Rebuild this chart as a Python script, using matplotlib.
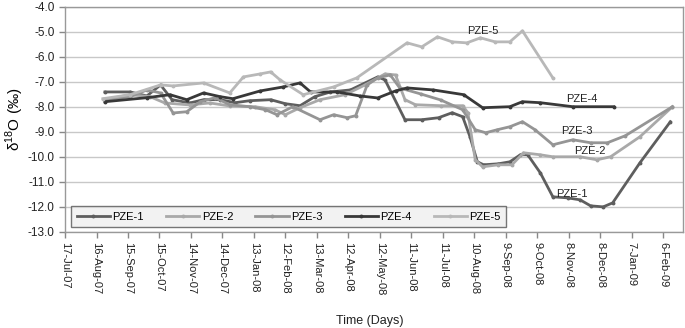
import numpy as np
import matplotlib
matplotlib.use("Agg")
import matplotlib.pyplot as plt

plt.rcParams['font.family'] = ['Liberation Sans', 'DejaVu Sans']
plt.rcParams['mathtext.fontset'] = 'custom'
plt.rcParams['mathtext.rm'] = 'Liberation Sans'

# days counted from 17-Jul-07, values in per mil
start = np.datetime64('2007-07-17')

pze1_day = [38, 62, 78, 91, 102, 119, 132, 148, 162, 176, 196, 210, 224, 238, 253, 272, 298, 305,
            324, 340, 356, 369, 379, 386, 393, 399, 413, 424, 434, 441, 453, 465, 479, 491, 501,
            513, 522, 548, 577]
pze1_val = [-7.41, -7.41, -7.57, -7.13, -7.72, -7.85, -7.72, -7.72, -7.84, -7.76, -7.72, -7.88,
            -7.96, -7.6, -7.41, -7.33, -6.81, -6.93, -8.52, -8.52, -8.44, -8.24, -8.4, -9.2, -10.2,
            -10.32, -10.28, -10.2, -9.92, -9.92, -10.64, -11.6, -11.64, -11.72, -11.96, -12.0,
            -11.84, -10.24, -8.6]

pze2_day = [38, 62, 81, 95, 119, 138, 157, 181, 200, 210, 224, 243, 267, 286, 305, 315, 324, 334,
            358, 379, 384, 391, 398, 413, 426, 437, 453, 465, 491, 507, 520, 548, 579]
pze2_val = [-7.72, -7.52, -7.6, -7.85, -7.93, -7.85, -7.97, -8.0, -8.12, -8.32, -8.04, -7.72,
            -7.52, -7.13, -6.69, -6.73, -7.72, -7.92, -7.96, -7.96, -8.24, -10.12, -10.4, -10.32,
            -10.32, -9.84, -9.92, -10.0, -10.0, -10.12, -10.0, -9.2, -8.0]

pze3_day = [38, 62, 78, 91, 103, 116, 129, 143, 157, 176, 191, 202, 217, 243, 256, 269, 277, 288,
            298, 310, 319, 339, 358, 379, 391, 401, 412, 424, 436, 448, 465, 484, 501, 517, 534, 579]
pze3_val = [-7.72, -7.6, -7.33, -7.45, -8.25, -8.2, -7.8, -7.64, -7.92, -8.0, -8.12, -8.32, -8.0,
            -8.52, -8.32, -8.44, -8.36, -7.13, -6.85, -6.73, -7.25, -7.49, -7.73, -8.12, -8.92,
            -9.04, -8.92, -8.8, -8.6, -8.92, -9.52, -9.32, -9.44, -9.44, -9.16, -8.0]

pze4_day = [38, 78, 100, 116, 132, 148, 160, 186, 208, 224, 234, 259, 281, 298, 315, 326, 351,
            380, 398, 424, 436, 453, 484, 523]
pze4_val = [-7.8, -7.64, -7.52, -7.72, -7.45, -7.6, -7.68, -7.37, -7.21, -7.05, -7.41, -7.41,
            -7.57, -7.65, -7.37, -7.25, -7.33, -7.52, -8.04, -8.0, -7.8, -7.84, -8.0, -8.0]

pze5_day = [36, 62, 91, 103, 132, 157, 170, 186, 196, 205, 227, 256, 278, 326, 340, 355, 369,
            383, 396, 410, 424, 436, 465]
pze5_val = [-7.68, -7.52, -7.13, -7.17, -7.05, -7.45, -6.81, -6.69, -6.61, -6.93, -7.52, -7.21,
            -6.85, -5.45, -5.61, -5.21, -5.41, -5.45, -5.25, -5.41, -5.41, -4.97, -6.85]

names = ['PZE-1', 'PZE-2', 'PZE-3', 'PZE-4', 'PZE-5']
colors = ['#5e5e5e', '#a9a9a9', '#959595', '#383838', '#b8b8b8']
days = [pze1_day, pze2_day, pze3_day, pze4_day, pze5_day]
vals = [pze1_val, pze2_val, pze3_val, pze4_val, pze5_val]

# labels placed on the chart: (day, value)
label_day = [483, 500, 488, 493, 398]
label_val = [-11.48, -9.77, -8.96, -7.69, -4.97]

tick_labels = ['17-Jul-07', '16-Aug-07', '15-Sep-07', '15-Oct-07', '14-Nov-07', '14-Dec-07',
               '13-Jan-08', '12-Feb-08', '13-Mar-08', '12-Apr-08', '12-May-08', '11-Jun-08',
               '11-Jul-08', '10-Aug-08', '9-Sep-08', '9-Oct-08', '8-Nov-08', '8-Dec-08',
               '7-Jan-09', '6-Feb-09']

fig = plt.figure(figsize=(6.85, 3.28), dpi=100)
ax = fig.add_axes([0.095, 0.293, 0.902, 0.687])

for d, v, c, n in zip(days, vals, colors, names):
    t = start + np.array(d).astype('timedelta64[D]')
    ax.plot(t, v, color=c, lw=2, marker='o', ms=1.8, label=n, solid_joinstyle='round')

for d, v, n in zip(label_day, label_val, names):
    t = start + np.timedelta64(d, 'D')
    ax.text(t, v, n, fontsize=8, ha='center', va='center', color='#222222')

ticks = start + (np.arange(len(tick_labels)) * 30).astype('timedelta64[D]')
ax.set_xticks(ticks)
ax.set_xticklabels(tick_labels, rotation=270, fontsize=8, color='#222222')
ax.set_xlim(start, np.datetime64('2009-02-25'))

ax.set_ylim(-13, -4)
ax.set_yticks(np.arange(-13, -3.9, 1.0))
ax.set_yticklabels(['%.1f' % y for y in np.arange(-13, -3.9, 1.0)], fontsize=8.5, color='#222222')
ax.yaxis.grid(True, color='#c8c8c8', lw=1)
ax.set_axisbelow(True)
ax.tick_params(direction='out', length=4, color='#888888', width=1)

for s in ax.spines.values():
    s.set_color('#999999')
    s.set_linewidth(1)

ax.set_ylabel('δ$^{18}$O (‰)', fontsize=11, labelpad=1)
fig.text(0.54, 0.02, 'Time (Days)', fontsize=9, ha='center', va='center', color='#222222')

leg = ax.legend(loc='lower left', bbox_to_anchor=(0.01, 0.02), ncol=5, fontsize=8,
                frameon=True, fancybox=False, handlelength=3.0, handletextpad=0.2,
                columnspacing=2.0, borderpad=0.5, borderaxespad=0)
leg.get_frame().set_facecolor('#efefef')
leg.get_frame().set_edgecolor('#555555')
leg.get_frame().set_linewidth(1)

fig.savefig('out.png', dpi=100)
